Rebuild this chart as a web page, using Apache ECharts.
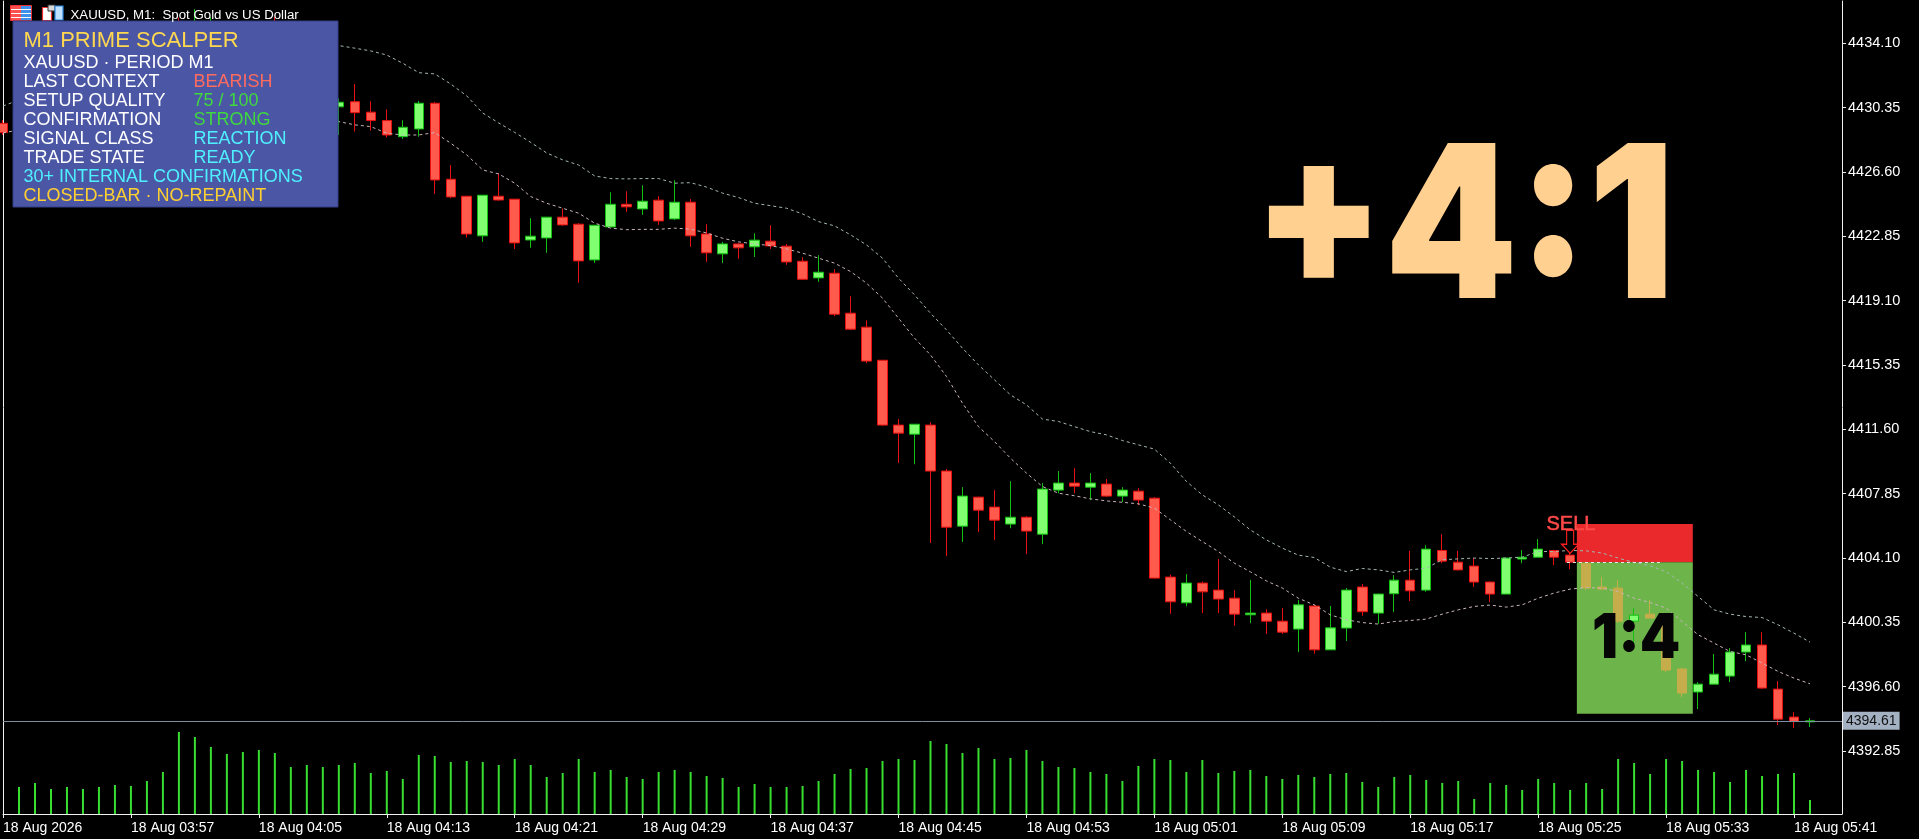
<!DOCTYPE html>
<html><head><meta charset="utf-8">
<style>html,body{margin:0;padding:0;background:#000;overflow:hidden}#c{width:1919px;height:839px}</style>
<script src="https://cdn.jsdelivr.net/npm/echarts@6/dist/echarts.min.js"></script>
</head><body><div id="c"></div>
<script>
const opens=[4429.44,4429.0,4430.2,4431.0,4430.6,4431.5,4432.2,4431.9,4432.8,4433.4,4433.1,4434.2,4433.3,4434.6,4435.0,4434.2,4434.7,4434.0,4433.2,4433.5,4432.7,4430.40,
4430.70,4430.09,4429.60,4428.66,4429.11,4430.61,4426.18,4425.19,4422.88,4425.19,4425.02,4422.64,4422.76,4423.97,4423.56,4421.48,4423.40,4424.72,4424.45,4424.96,4423.87,4424.84,4422.99,4421.83,4422.41,4422.24,4422.57,4422.28,
4421.40,4420.43,4420.70,4418.37,4417.56,4415.63,4411.85,4411.32,4411.85,4409.17,4405.96,4407.65,4407.07,4406.08,4406.48,4405.49,4408.06,4408.47,4408.23,4408.41,4407.71,4408.00,4407.59,4402.99,4401.49,4402.64,4402.23,4401.76,4400.79,4400.89,
4400.42,4399.96,4401.30,4398.75,4400.02,4402.41,4400.89,4402.02,4402.81,4402.23,4404.54,4403.86,4403.63,4402.70,4402.00,4404.04,4404.15,4404.54,4404.27,4403.80,4402.41,4402.35,4400.42,4400.83,4400.62,4397.63,4396.29,4396.75,4397.22,4398.62,4399.03,4396.46,4394.83,4394.55];
const closes=[4428.90,4430.2,4431.0,4430.6,4431.5,4432.2,4431.9,4432.8,4433.4,4433.1,4433.9,4433.3,4434.6,4435.0,4434.2,4434.7,4434.0,4433.2,4433.5,4432.7,4431.0,4430.67,
4430.06,4429.60,4428.76,4429.21,4430.61,4426.14,4425.15,4422.99,4425.25,4424.97,4422.47,4422.86,4423.97,4423.52,4421.42,4423.50,4424.72,4424.57,4424.90,4423.75,4424.84,4422.88,4421.89,4422.41,4422.18,4422.63,4422.29,4421.36,
4420.35,4420.76,4418.31,4417.44,4415.58,4411.85,4411.38,4411.90,4409.17,4405.90,4407.71,4406.89,4406.31,4406.48,4405.67,4408.12,4408.47,4408.29,4408.47,4407.71,4408.06,4407.48,4402.93,4401.55,4402.64,4402.13,4401.71,4400.83,4400.89,4400.42,
4399.78,4401.37,4398.75,4400.03,4402.23,4400.97,4402.00,4402.81,4402.19,4404.62,4403.92,4403.41,4402.70,4402.00,4404.10,4404.15,4404.62,4404.15,4403.86,4402.35,4402.29,4400.42,4400.77,4400.60,4397.57,4396.23,4396.75,4397.33,4398.62,4399.03,4396.52,4394.71,4394.57,4394.61];
const lows=[4428.76,4428.7,4429.9,4430.3,4430.4,4431.2,4431.5,4431.7,4432.5,4432.7,4432.9,4432.9,4433.0,4434.2,4433.9,4433.8,4433.7,4432.8,4432.6,4432.3,4430.7,4428.76,
4428.96,4429.01,4428.61,4428.53,4428.66,4425.32,4425.07,4422.78,4422.53,4424.92,4422.12,4422.18,4421.89,4423.46,4420.14,4421.30,4423.40,4424.28,4424.10,4423.52,4423.81,4422.24,4421.36,4421.30,4421.54,4421.65,4422.12,4421.19,
4420.31,4420.20,4418.20,4417.38,4415.46,4411.79,4409.63,4409.57,4404.97,4404.21,4405.03,4405.61,4405.14,4405.84,4404.33,4404.91,4407.88,4407.88,4407.48,4407.65,4407.36,4407.18,4402.90,4400.85,4401.30,4400.89,4400.89,4400.15,4400.31,4399.67,
4399.68,4398.62,4398.52,4398.75,4399.26,4400.73,4400.27,4400.95,4401.59,4402.13,4403.80,4403.38,4402.41,4401.53,4401.99,4403.80,4404.15,4403.69,4403.45,4402.25,4402.23,4400.31,4399.00,4400.60,4397.47,4396.00,4395.30,4396.75,4396.87,4398.09,4396.46,4394.36,4394.19,4394.25];
const highs=[4429.64,4430.6,4431.4,4431.6,4431.9,4432.6,4432.7,4433.1,4433.8,4433.9,4434.4,4435.60,4436.10,4435.64,4435.3,4435.1,4435.2,4435.64,4434.2,4434.0,4433.1,4430.90,
4431.73,4430.73,4430.26,4429.62,4430.74,4430.69,4427.01,4425.21,4425.25,4426.53,4425.03,4423.91,4423.97,4424.47,4423.62,4423.50,4425.42,4425.48,4425.83,4425.19,4426.12,4425.02,4423.56,4422.53,4422.47,4423.03,4423.50,4422.41,
4421.64,4421.75,4420.94,4419.36,4417.96,4415.63,4412.20,4411.90,4412.02,4409.28,4408.23,4407.67,4408.06,4408.58,4406.54,4408.47,4409.17,4409.34,4409.05,4408.70,4408.23,4408.17,4407.65,4403.14,4403.16,4402.73,4404.04,4402.23,4402.83,4401.12,
4401.18,4401.66,4401.37,4401.30,4402.35,4402.58,4402.02,4403.10,4404.52,4404.85,4405.49,4404.52,4404.10,4402.73,4404.12,4404.56,4405.20,4404.58,4404.40,4403.82,4402.99,4402.81,4401.18,4401.66,4400.73,4397.70,4396.87,4398.50,4398.85,4399.78,4399.78,4396.93,4395.12,4394.77];
const volumes=[0,27,31,25,27,25,27,29,28,33,42,82,77,67,60,62,64,61,47,49,47,49,51,41,43,35,59,58,52,53,52,49,55,49,37,41,55,42,44,37,35,42,44,42,38,36,27,30,27,27,
28,33,40,45,46,53,55,54,73,70,61,66,55,56,64,53,47,46,42,40,33,48,55,54,42,54,41,43,44,38,35,39,37,40,41,32,27,37,39,34,31,33,15,31,29,24,35,31,24,31,25,55,51,40,55,53,44,42,32,44,38,40,41,14];
const upperBand=[4430.45,4430.80,4431.15,4431.50,4431.97,4432.43,4432.90,4433.37,4433.83,4434.18,4434.42,4434.65,4434.82,4434.94,4434.88,4434.82,4434.71,4434.59,4434.47,4434.30,4434.12,4433.97,
4433.82,4433.66,4433.42,4432.94,4432.39,4432.32,4431.73,4431.04,4430.04,4429.46,4428.91,4428.33,4427.71,4427.31,4427.01,4426.37,4426.22,4426.20,4426.22,4426.22,4425.95,4425.98,4425.72,4425.37,4425.11,4424.78,4424.64,4424.49,
4424.16,4423.71,4423.46,4422.94,4422.35,4421.58,4420.41,4419.44,4418.37,4417.40,4416.33,4415.36,4414.49,4413.61,4413.03,4412.20,4412.06,4411.76,4411.47,4411.28,4410.95,4410.70,4410.45,4409.63,4408.57,4407.78,4407.20,4406.50,4405.74,4405.16,
4404.68,4404.27,4404.13,4403.57,4403.31,4403.49,4403.41,4403.26,4403.41,4403.51,4404.00,4404.05,4404.10,4404.07,4404.10,4404.15,4404.48,4404.48,4404.54,4404.52,4404.39,4404.10,4403.84,4403.65,4403.31,4402.64,4401.86,4401.08,4400.83,4400.69,4400.63,4400.21,4399.72,4399.20];
const lowerBand=[4428.88,4429.05,4429.23,4429.40,4429.52,4429.64,4429.75,4429.87,4429.93,4429.99,4430.05,4430.10,4430.10,4430.05,4429.99,4429.93,4429.87,4429.81,4429.75,4429.70,4429.64,4429.54,
4429.35,4429.25,4428.86,4428.76,4428.76,4428.90,4428.28,4427.60,4426.72,4426.49,4425.95,4425.17,4424.78,4424.49,4424.20,4423.62,4423.33,4423.24,4423.26,4423.26,4423.33,4423.27,4423.05,4422.74,4422.53,4422.41,4422.31,4422.12,
4421.87,4421.58,4421.29,4420.80,4420.12,4419.25,4418.08,4416.92,4415.94,4414.68,4413.13,4411.76,4410.89,4409.92,4409.05,4408.27,4407.88,4407.73,4407.55,4407.43,4407.35,4407.26,4407.01,4406.33,4405.65,4405.06,4404.48,4403.80,4403.30,4402.77,
4402.35,4401.76,4401.37,4400.79,4400.50,4400.34,4400.25,4400.40,4400.46,4400.54,4400.83,4401.08,4401.28,4401.36,4401.24,4401.37,4401.76,4402.06,4402.29,4402.38,4402.35,4402.15,4401.76,4401.51,4401.18,4400.40,4399.63,4399.14,4398.65,4398.46,4397.98,4397.49,4397.10,4396.77];
const priceTicks=[4392.85,4396.60,4400.35,4404.10,4407.85,4411.60,4415.35,4419.10,4422.85,4426.60,4430.35,4434.10];
const timeLabels=['18 Aug 2026','18 Aug 03:57','18 Aug 04:05','18 Aug 04:13','18 Aug 04:21','18 Aug 04:29','18 Aug 04:37','18 Aug 04:45','18 Aug 04:53','18 Aug 05:01','18 Aug 05:09','18 Aug 05:17','18 Aug 05:25','18 Aug 05:33','18 Aug 05:41'];
const timeTicks=[0,8,16,24,32,40,48,56,64,72,80,88,96,104,112];
const lastPrice=4394.61;
const riskBox={x0:98.42,x1:105.67,stop:4406.09,entry:4403.86,target:4395.02};
const tintedBars=[99,100,101,103,104,105];
const sellSignal={bar:98,price:4405.05};
const panelRows=[
 ['LAST CONTEXT','BEARISH','#FF6B5F'],
 ['SETUP QUALITY','75 / 100','#3FD83F'],
 ['CONFIRMATION','STRONG','#3FD83F'],
 ['SIGNAL CLASS','REACTION','#4FF0FF'],
 ['TRADE STATE','READY','#4FF0FF']];

const RED='#FF5A4C',REDB='#E81010',GRN='#80FF70',GRNB='#12C012',OCH='#C4AD4A';
const candles=opens.map((o,i)=>{
  const item={value:[i,o,closes[i],lows[i],highs[i]]};
  if(tintedBars.includes(i)) item.itemStyle={color:OCH,color0:OCH,borderColor:OCH,borderColor0:OCH};
  return item;
});
const ff='"Liberation Sans",Arial,sans-serif';
const T=(x,y,text,fill,size,extra,tf)=>Object.assign({type:'text',z:110,silent:true,x,y,style:Object.assign({text,fill,fontFamily:ff,fontSize:size,verticalAlign:'middle',align:'left'},extra||{})},tf||{});
const R=(x,y,w,h,fill,extra)=>({type:'rect',z:105,silent:true,shape:{x,y,width:w,height:h},style:Object.assign({fill},extra||{})});

const g=[];
g.push(R(10.5,5.5,21,15,'#fff',{stroke:'#F03030',lineWidth:1}));
g.push(R(11,6,10,14,'#FF5050'));g.push(R(21,6,10,14,'#3E90E8'));
[9,13,17].forEach(y=>g.push(R(11,y,20,1,'#fff')));
g.push(R(42.5,7.5,9,13,'#fff',{stroke:'#F03030',lineWidth:1.2}));
g.push(R(48,5,7,6,'#D8D8D8',{stroke:'#333',lineWidth:1}));
g.push(R(55,6,8,14,'#BFE0FF',{stroke:'#2E86DE',lineWidth:1.2}));
g.push(T(70.5,15,'XAUUSD, M1:  Spot Gold vs US Dollar','#fff',13.25));
g.push(R(13,21,325,186,'#4B57A5',{stroke:'#343E86',lineWidth:1}));
g.push(T(23.5,41,'M1 PRIME SCALPER','#FFD84F',22));
g.push(T(23.5,63,'XAUUSD · PERIOD M1','#fff',18));
panelRows.forEach((r,i)=>{
  g.push(T(23.5,82+19*i,r[0],'#fff',18));
  g.push(T(193.5,82+19*i,r[1],r[2],18));
});
g.push(T(23.5,177,'30+ INTERNAL CONFIRMATIONS','#4FF0FF',18));
g.push(T(23.5,196,'CLOSED-BAR · NO-REPAINT','#FFD030',18));
g.push(T(1546.5,524,'SELL','#FF4848',20,{stroke:'#FF4848',lineWidth:0.6}));
g.push(T(1592,639.5,'1:4','#050505',68,{fontFamily:'Inter',fontWeight:900},{scaleX:0.85,scaleY:0.9}));
g.push(T(1253,234,'+4:1','#FFD08F',218,{fontFamily:'Inter',fontWeight:900},{scaleX:0.87,scaleY:0.975}));

const chart=echarts.init(document.getElementById('c'),null,{width:1919,height:839});
chart.setOption({
  animation:false,
  backgroundColor:'#000',
  grid:{left:2,top:1,right:77,bottom:25,containLabel:false},
  xAxis:{type:'value',min:0,max:115,interval:8,splitLine:{show:false},
    axisLine:{onZero:false,lineStyle:{color:'#F0F0F0',width:1}},
    axisTick:{length:4,lineStyle:{color:'#F0F0F0'},customValues:timeTicks},
    axisLabel:{customValues:timeTicks,color:'#fff',fontFamily:ff,fontSize:14,align:'left',margin:7,
      formatter:v=>timeLabels[timeTicks.indexOf(v)]||''}},
  yAxis:[
    {type:'value',position:'right',min:4389.18,max:4436.57,scale:true,splitLine:{show:false},
     axisLine:{show:true,onZero:false,lineStyle:{color:'#F0F0F0',width:1}},
     axisTick:{show:true,length:4,lineStyle:{color:'#F0F0F0'},customValues:priceTicks},
     axisLabel:{customValues:priceTicks,color:'#fff',fontFamily:ff,fontSize:14.5,margin:6,formatter:v=>v.toFixed(2)}},
    {type:'value',position:'left',min:0,max:813,splitLine:{show:false},
     axisLine:{show:true,onZero:false,lineStyle:{color:'#F0F0F0',width:1}},axisTick:{show:false},axisLabel:{show:false}}
  ],
  series:[
    {name:'Volume',type:'bar',yAxisIndex:1,z:1,barWidth:2,itemStyle:{color:'#38DE30'},silent:true,
     data:volumes.map((v,i)=>[i,v])},
    {name:'XAUUSD',type:'candlestick',z:2,barWidth:10,silent:true,
     itemStyle:{color:GRN,color0:RED,borderColor:GRNB,borderColor0:REDB,borderWidth:1},
     data:candles,
     markArea:{silent:true,data:[
       [{coord:[riskBox.x0,riskBox.stop],itemStyle:{color:'#E9292C',opacity:1}},{coord:[riskBox.x1,riskBox.entry]}],
       [{coord:[riskBox.x0,riskBox.entry],itemStyle:{color:'#6DB54A',opacity:1}},{coord:[riskBox.x1,riskBox.target]}]
     ]},
     markLine:{silent:true,symbol:['none','none'],animation:false,precision:2,
       lineStyle:{color:'#7F8FA0',width:1,type:'solid'},
       label:{position:'end',distance:1,formatter:'4394.61',color:'#111',backgroundColor:'#A3B1C2',padding:[2,3,2,3],fontFamily:ff,fontSize:14},
       data:[{yAxis:lastPrice}]},
     markPoint:{silent:true,animation:false,label:{show:false},
       data:[{coord:[sellSignal.bar,sellSignal.price],symbol:'path://M-3.5,0 L3.5,0 L3.5,14 L8.5,14 L0,23 L-8.5,14 L-3.5,14 Z',symbolSize:[17,23],
         itemStyle:{color:'#000',borderColor:'#FF2020',borderWidth:1.3}}]}
    },
    {name:'Upper',type:'line',z:3,showSymbol:false,silent:true,lineStyle:{color:'#A4B8B0',width:1,type:[3,3]},
     data:upperBand.map((v,i)=>[i,v]),
     markLine:{silent:true,symbol:['none','none'],animation:false,label:{show:false},
       lineStyle:{color:'#E8E8E8',width:1,type:[3,3]},
       data:[[{coord:[97.8,riskBox.entry]},{coord:[103.8,riskBox.entry]}]]}},
    {name:'Lower',type:'line',z:3,showSymbol:false,silent:true,lineStyle:{color:'#C8B4BC',width:1,type:[3,3]},
     data:lowerBand.map((v,i)=>[i,v])}
  ],
  graphic:{elements:g}
});
</script></body></html>
